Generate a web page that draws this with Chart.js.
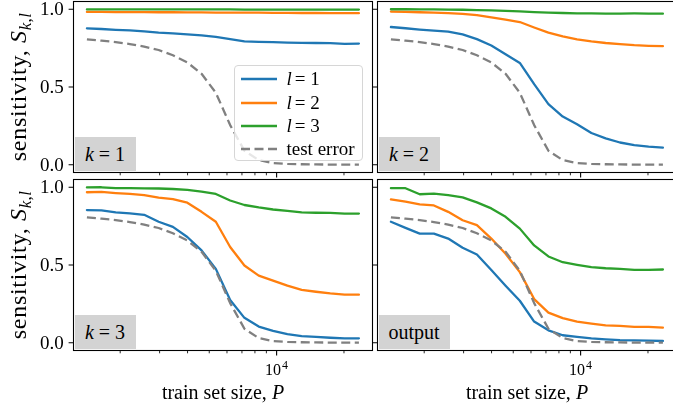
<!DOCTYPE html>
<html>
<head>
<meta charset="utf-8">
<script src="https://cdn.jsdelivr.net/npm/chart.js@4/dist/chart.umd.min.js"></script>
<style>
  html, body { margin: 0; padding: 0; background: #fff; overflow: hidden; width: 673px; height: 404px; }
  #fig { position: relative; width: 673px; height: 404px; overflow: hidden; font-family: "Liberation Serif", "Times New Roman", serif; color: #000; }
  #fig canvas { position: absolute; left: 0; top: 0; }
  .tag { position: absolute; background: #d3d3d3; height: 34px; font-size: 20px; display: flex; align-items: center; justify-content: center; white-space: nowrap; }
  .tag i { margin-right: 5px; }
  .ylab { position: absolute; left: 20px; font-size: 24px; letter-spacing: 0.7px; white-space: nowrap; transform: translate(-50%, -50%) rotate(-90deg); line-height: 1; }
  .ylab sub { font-size: 17px; vertical-align: -5px; letter-spacing: 0.3px; }
  .xlab { position: absolute; top: 382px; font-size: 20px; white-space: nowrap; transform: translateX(-50%); line-height: 20px; }
  #legend { position: absolute; left: 233.5px; top: 65px; width: 129px; height: 96px; box-sizing: border-box; border: 1px solid #d6d6d6; border-radius: 4px; background: rgba(255,255,255,0.8); }
  #legend .item { position: absolute; left: 6px; height: 20px; display: flex; align-items: center; font-size: 19px; white-space: nowrap; }
  #legend .item i { margin-right: 3px; }
  #legend svg { margin-right: 10px; }
</style>
</head>
<body>
<div id="fig">
  <canvas id="c0" width="690" height="404"></canvas>
  <canvas id="c1" width="690" height="404"></canvas>
  <canvas id="c2" width="690" height="404"></canvas>
  <canvas id="c3" width="690" height="404"></canvas>
</div>
<script>
// Training set sizes (x) shared by every panel
const trainSizes = [1420, 1650, 1910, 2210, 2560, 2970, 3440, 3990, 4620, 5350,
                    6200, 7180, 8320, 9640, 11170, 12940, 14990, 17370, 20130, 23320];

// Test error, drawn dashed in every panel
const testError = [0.806, 0.798, 0.789, 0.776, 0.760, 0.738, 0.704, 0.658, 0.585, 0.463,
                   0.255, 0.090, 0.030, 0.011, 0.005, 0.003, 0.002, 0.001, 0.001, 0.001];

// Sensitivity S_{k,l}, k = 1
const k1Layer1 = [0.877, 0.873, 0.868, 0.864, 0.858, 0.850, 0.845, 0.839, 0.832, 0.822,
                  0.808, 0.793, 0.790, 0.789, 0.786, 0.784, 0.783, 0.782, 0.778, 0.779];
const k1Layer2 = [0.983, 0.983, 0.982, 0.982, 0.982, 0.981, 0.981, 0.980, 0.980, 0.979,
                  0.979, 0.978, 0.978, 0.977, 0.977, 0.976, 0.976, 0.975, 0.975, 0.975];
const k1Layer3 = [0.999, 0.999, 0.999, 0.999, 0.999, 0.999, 0.999, 0.999, 0.999, 0.999,
                  0.999, 0.998, 0.998, 0.998, 0.998, 0.998, 0.998, 0.998, 0.998, 0.998];

// k = 2
const k2Layer1 = [0.886, 0.878, 0.869, 0.862, 0.856, 0.838, 0.808, 0.767, 0.711, 0.655,
                  0.518, 0.390, 0.310, 0.260, 0.204, 0.170, 0.143, 0.126, 0.116, 0.110];
const k2Layer2 = [0.985, 0.983, 0.981, 0.978, 0.975, 0.970, 0.962, 0.948, 0.934, 0.918,
                  0.883, 0.850, 0.825, 0.807, 0.793, 0.783, 0.776, 0.769, 0.765, 0.763];
const k2Layer3 = [1.000, 1.000, 0.999, 0.999, 0.998, 0.997, 0.995, 0.993, 0.990, 0.986,
                  0.982, 0.979, 0.976, 0.974, 0.973, 0.972, 0.972, 0.973, 0.972, 0.972];

// k = 3
const k3Layer1 = [0.853, 0.851, 0.838, 0.832, 0.823, 0.778, 0.745, 0.680, 0.594, 0.475,
                  0.275, 0.160, 0.104, 0.076, 0.055, 0.043, 0.037, 0.032, 0.028, 0.028];
const k3Layer2 = [0.968, 0.970, 0.963, 0.957, 0.950, 0.933, 0.924, 0.901, 0.842, 0.778,
                  0.616, 0.497, 0.432, 0.400, 0.367, 0.340, 0.328, 0.317, 0.310, 0.309];
const k3Layer3 = [0.999, 1.000, 0.994, 0.994, 0.993, 0.992, 0.989, 0.983, 0.972, 0.957,
                  0.915, 0.886, 0.870, 0.857, 0.848, 0.838, 0.836, 0.835, 0.830, 0.831];

// network output
const outLayer1 = [0.778, 0.739, 0.702, 0.702, 0.670, 0.611, 0.568, 0.468, 0.367, 0.270,
                   0.136, 0.080, 0.048, 0.037, 0.028, 0.022, 0.017, 0.015, 0.013, 0.011];
const outLayer2 = [0.922, 0.907, 0.890, 0.883, 0.842, 0.788, 0.756, 0.670, 0.572, 0.454,
                   0.281, 0.194, 0.158, 0.136, 0.123, 0.112, 0.108, 0.102, 0.102, 0.097];
const outLayer3 = [0.994, 0.994, 0.955, 0.959, 0.950, 0.935, 0.903, 0.864, 0.810, 0.734,
                   0.626, 0.555, 0.518, 0.501, 0.486, 0.479, 0.475, 0.469, 0.469, 0.471];

// Axis ticks
const yTickValues = [0, 0.5, 1.0];
const yTickLabels = ['0.0', '0.5', '1.0'];
const xMajorTicks = [10000];
const xMinorTicks = [2000, 3000, 4000, 5000, 6000, 7000, 8000, 9000, 20000];

// Series names and colours
const layerNames = ['1', '2', '3'];
const layerColors = ['#1f77b4', '#ff7f0e', '#2ca02c'];
const errorColor = '#808080';

const SERIF = '"Liberation Serif", "Times New Roman", serif';
const CANVAS_W = 690, CANVAS_H = 404;
const X_MIN = 1237, X_MAX = 26820, Y_MIN = -0.05, Y_MAX = 1.05;
const MAJOR_LEN = 4.9, MINOR_LEN = 2.8, LABEL_PAD = 4.9;
const LINE_W = 2.3, DASH = [9, 4.5];

// left, top, right, bottom of each axes box
const panels = [
  { id: 'c0', rect: [73.5, 1.5, 372.5, 172.5],   series: [k1Layer1, k1Layer2, k1Layer3], tag: '<i>k</i>= 1', tagW: 61, yLabels: true,  xLabels: false },
  { id: 'c1', rect: [377.5, 1.5, 676.5, 172.5],  series: [k2Layer1, k2Layer2, k2Layer3], tag: '<i>k</i>= 2', tagW: 61, yLabels: false, xLabels: false },
  { id: 'c2', rect: [73.5, 179.5, 372.5, 350.5], series: [k3Layer1, k3Layer2, k3Layer3], tag: '<i>k</i>= 3', tagW: 61, yLabels: true,  xLabels: true },
  { id: 'c3', rect: [377.5, 179.5, 676.5, 350.5], series: [outLayer1, outLayer2, outLayer3], tag: 'output', tagW: 71, yLabels: false, xLabels: true }
];

const axesFrame = {
  id: 'axesFrame',
  afterDraw(chart, args, opts) {
    const { ctx, chartArea: a } = chart;
    const x = chart.scales.x, y = chart.scales.y;
    ctx.save();
    ctx.strokeStyle = '#000';
    ctx.fillStyle = '#000';
    ctx.lineWidth = 1.1;
    ctx.strokeRect(a.left, a.top, a.right - a.left, a.bottom - a.top);

    ctx.beginPath();
    yTickValues.forEach(v => {
      const py = y.getPixelForValue(v);
      ctx.moveTo(a.left - MAJOR_LEN, py); ctx.lineTo(a.left, py);
    });
    xMajorTicks.forEach(v => {
      const px = x.getPixelForValue(v);
      ctx.moveTo(px, a.bottom); ctx.lineTo(px, a.bottom + MAJOR_LEN);
    });
    ctx.stroke();

    ctx.lineWidth = 0.85;
    ctx.beginPath();
    xMinorTicks.forEach(v => {
      const px = x.getPixelForValue(v);
      ctx.moveTo(px, a.bottom); ctx.lineTo(px, a.bottom + MINOR_LEN);
    });
    ctx.stroke();

    if (opts.yLabels) {
      ctx.font = '19px ' + SERIF;
      ctx.textAlign = 'right';
      ctx.textBaseline = 'middle';
      yTickValues.forEach((v, i) => {
        ctx.fillText(yTickLabels[i], a.left - MAJOR_LEN - LABEL_PAD, y.getPixelForValue(v) + 1);
      });
    }
    if (opts.xLabels) {
      ctx.textAlign = 'left';
      ctx.textBaseline = 'alphabetic';
      xMajorTicks.forEach(v => {
        const px = x.getPixelForValue(v);
        const base = '10', exp = String(Math.round(Math.log10(v)));
        ctx.font = '16px ' + SERIF;
        const wb = ctx.measureText(base).width;
        ctx.font = '12px ' + SERIF;
        const we = ctx.measureText(exp).width;
        const x0 = px - (wb + we + 1) / 2;
        const baseY = a.bottom + MAJOR_LEN + 20;
        ctx.font = '16px ' + SERIF;
        ctx.fillText(base, x0, baseY);
        ctx.font = '12px ' + SERIF;
        ctx.fillText(exp, x0 + wb + 1, baseY - 6);
      });
    }
    ctx.restore();
  }
};

const fig = document.getElementById('fig');

panels.forEach(p => {
  const [l, t, r, b] = p.rect;
  const datasets = p.series.map((vals, i) => ({
    label: 'l = ' + layerNames[i],
    data: trainSizes.map((s, j) => ({ x: s, y: vals[j] })),
    borderColor: layerColors[i],
    borderWidth: LINE_W,
    order: 3 - i
  }));
  datasets.push({
    label: 'test error',
    data: trainSizes.map((s, j) => ({ x: s, y: testError[j] })),
    borderColor: errorColor,
    borderWidth: LINE_W,
    borderDash: DASH,
    borderCapStyle: 'butt',
    order: 0
  });

  new Chart(document.getElementById(p.id), {
    type: 'line',
    data: { datasets },
    options: {
      responsive: false,
      animation: false,
      devicePixelRatio: 1,
      layout: { padding: { left: l, top: t, right: CANVAS_W - r, bottom: CANVAS_H - b } },
      scales: {
        x: { type: 'logarithmic', min: X_MIN, max: X_MAX, display: false },
        y: { type: 'linear', min: Y_MIN, max: Y_MAX, display: false }
      },
      elements: { point: { radius: 0 }, line: { tension: 0, borderJoinStyle: 'round', borderCapStyle: 'round' } },
      plugins: {
        legend: { display: false },
        tooltip: { enabled: false },
        axesFrame: { yLabels: p.yLabels, xLabels: p.xLabels }
      }
    },
    plugins: [axesFrame]
  });

  // panel tag in the lower-left corner
  const tag = document.createElement('div');
  tag.className = 'tag';
  tag.innerHTML = p.tag;
  tag.style.left = (l + 1) + 'px';
  tag.style.top = (b - 1.5 - 34) + 'px';
  tag.style.width = p.tagW + 'px';
  fig.appendChild(tag);

  if (p.yLabels) {
    const yl = document.createElement('div');
    yl.className = 'ylab';
    yl.innerHTML = 'sensitivity, <i>S</i><sub><i>k</i>,<i>l</i></sub>';
    yl.style.top = ((t + b) / 2) + 'px';
    fig.appendChild(yl);
  }
  if (p.xLabels) {
    const xl = document.createElement('div');
    xl.className = 'xlab';
    xl.innerHTML = 'train set size, <i>P</i>';
    xl.style.left = ((l + r) / 2) + 'px';
    fig.appendChild(xl);
  }
});

// legend inside the first panel
const legend = document.createElement('div');
legend.id = 'legend';
const entries = layerNames.map((n, i) => ({ html: '<i>l</i>= ' + n, color: layerColors[i], dash: null }));
entries.push({ html: 'test error', color: errorColor, dash: DASH });
entries.forEach((e, i) => {
  const item = document.createElement('div');
  item.className = 'item';
  item.style.top = (3.3 + i * 23.3) + 'px';
  const dashAttr = e.dash ? ` stroke-dasharray="${e.dash.join(' ')}"` : '';
  item.innerHTML = `<svg width="36" height="6"><line x1="0" y1="3" x2="36" y2="3" stroke="${e.color}" stroke-width="${LINE_W}"${dashAttr}/></svg><span>${e.html}</span>`;
  legend.appendChild(item);
});
fig.appendChild(legend);
</script>
</body>
</html>
